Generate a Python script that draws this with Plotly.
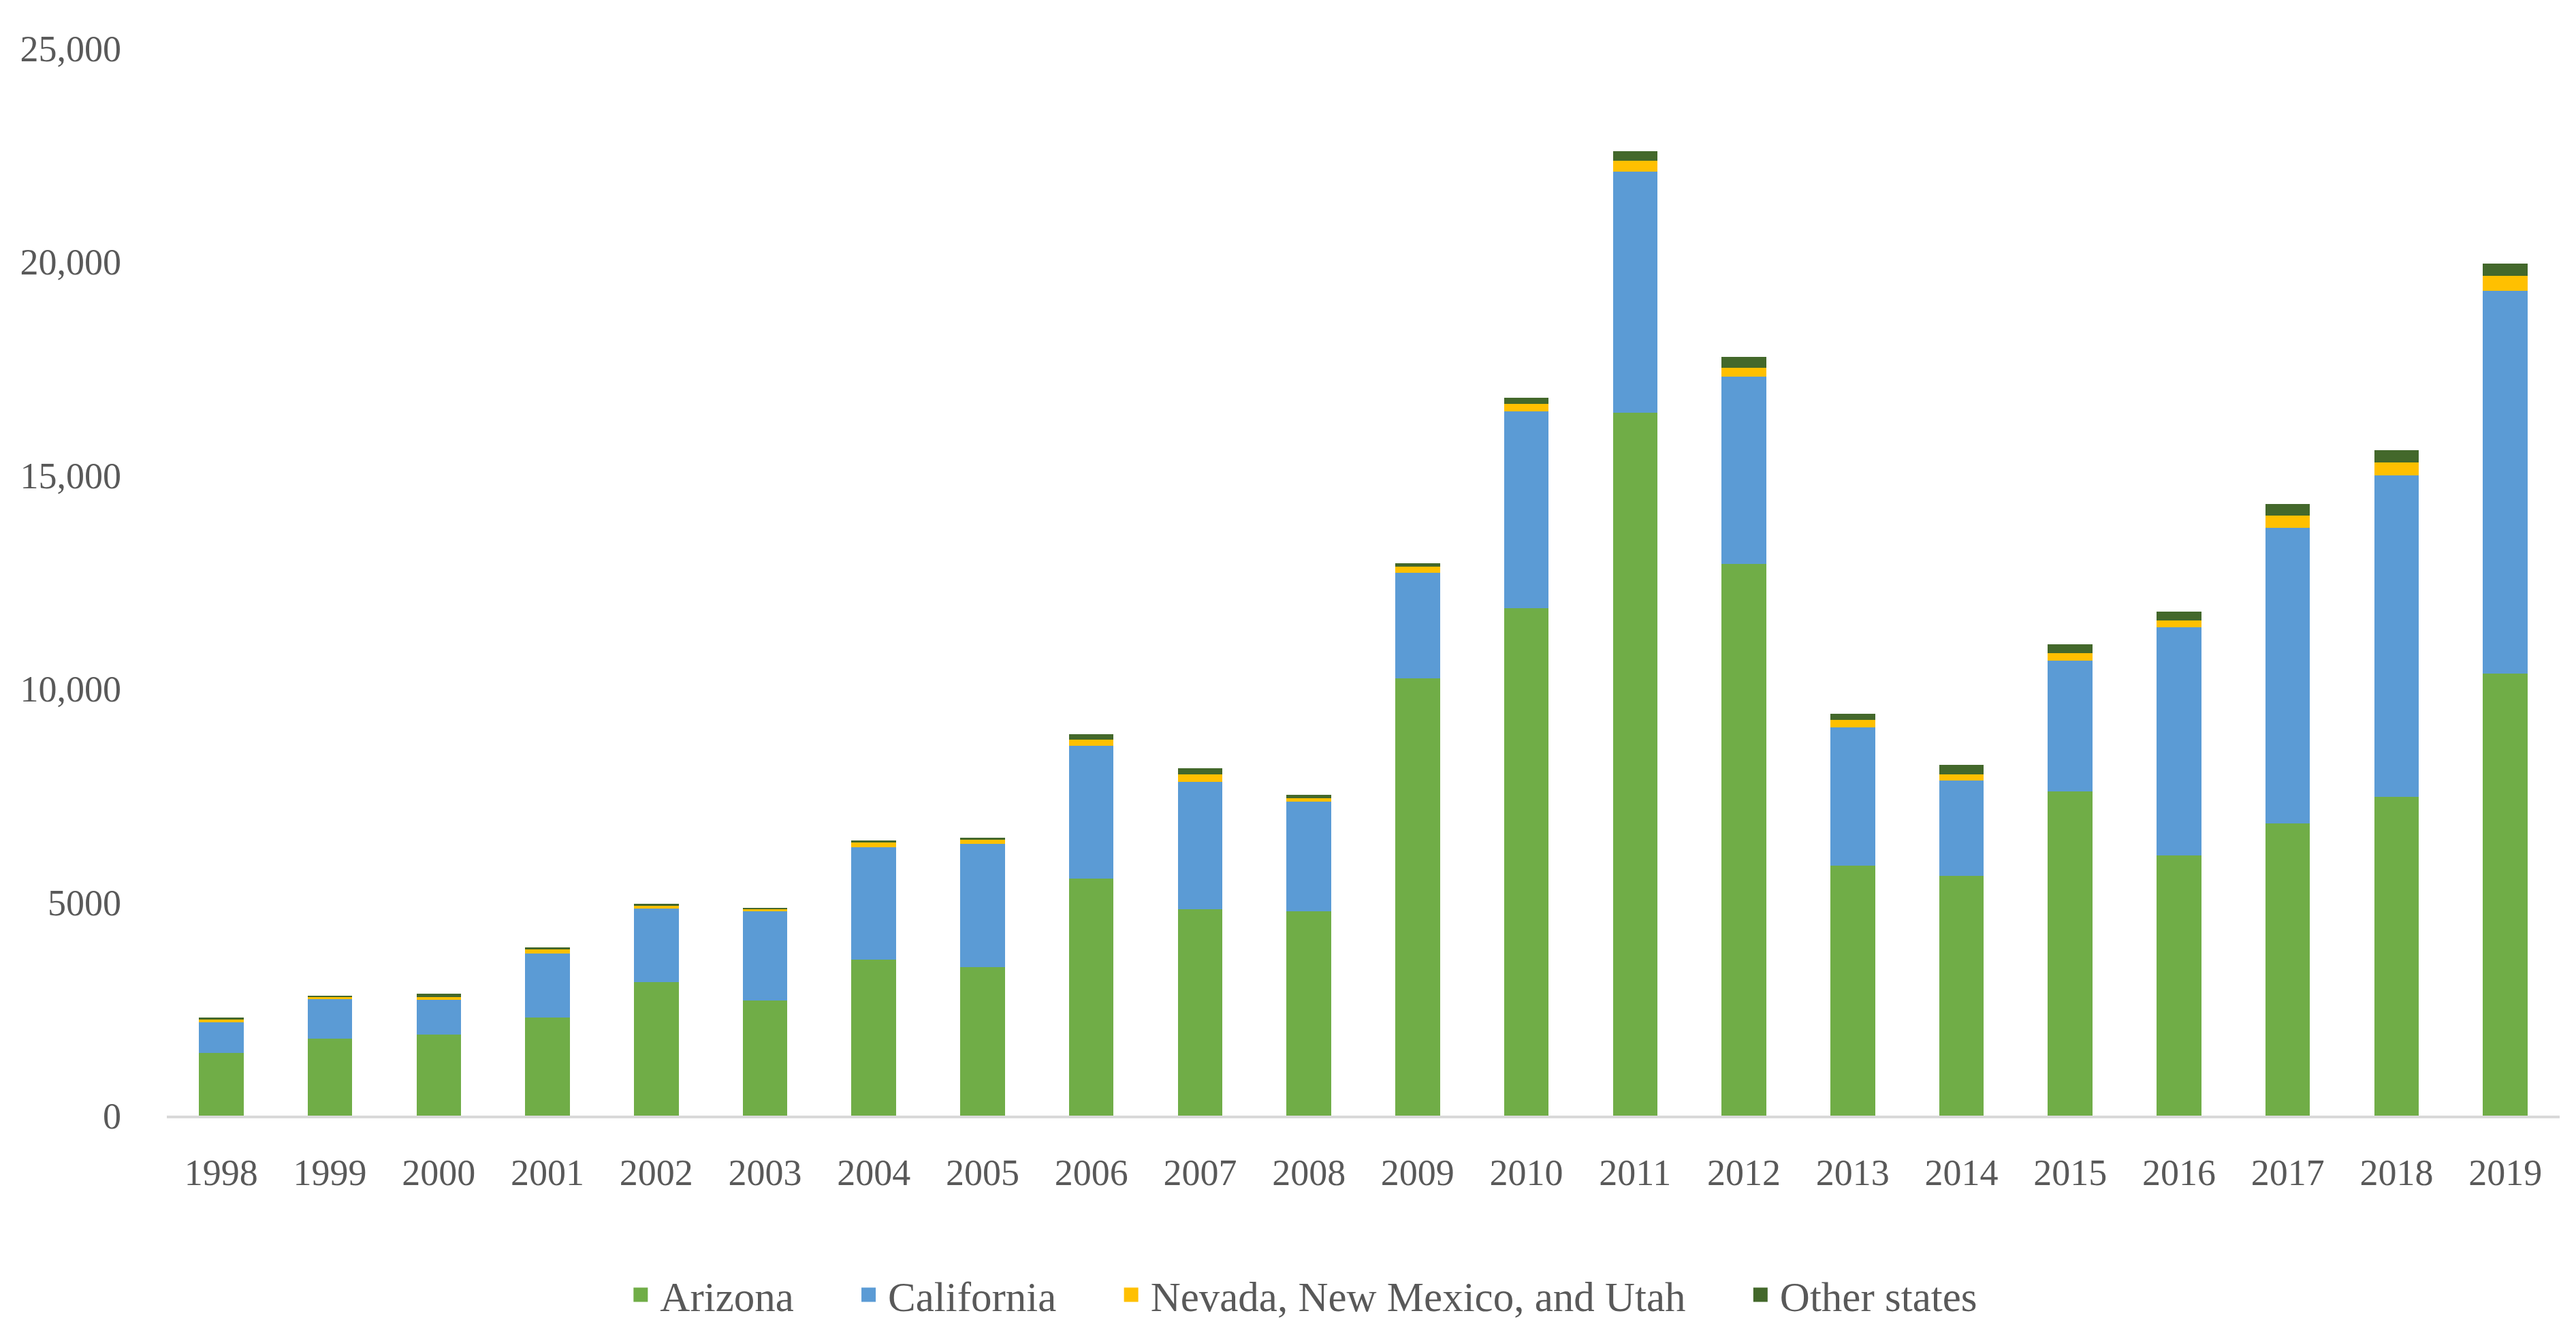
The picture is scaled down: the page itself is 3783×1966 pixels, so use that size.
import plotly.graph_objects as go

years = [str(y) for y in range(1998, 2020)]
arizona = [1460, 1800, 1900, 2300, 3130, 2700, 3650, 3480, 5550, 4830, 4780,
           10250, 11880, 16460, 12920, 5850, 5620, 7600, 6100, 6850, 7460, 10350]
california = [730, 930, 820, 1500, 1720, 2080, 2640, 2880, 3120, 2990, 2570,
              2460, 4620, 5660, 4390, 3250, 2230, 3050, 5340, 6920, 7540, 8970]
nevada_nm_ut = [60, 50, 60, 90, 70, 60, 105, 105, 130, 170, 90,
                150, 170, 250, 210, 165, 150, 190, 155, 290, 300, 355]
other_states = [40, 30, 80, 50, 40, 30, 55, 45, 130, 150, 80,
                85, 138, 225, 250, 150, 210, 195, 205, 265, 290, 290]

series = [
    ("Arizona", arizona, "#70AD47"),
    ("California", california, "#5B9BD5"),
    ("Nevada, New Mexico, and Utah", nevada_nm_ut, "#FFC000"),
    ("Other states", other_states, "#43682B"),
]

y_tickvals = [0, 5000, 10000, 15000, 20000, 25000]
y_ticktext = ["0", "5000", "10,000", "15,000", "20,000", "25,000"]

font_family = "Palatino Linotype, Book Antiqua, Palatino, Liberation Serif, serif"
text_color = "#595959"
pad = "\u00a0" * 5

fig = go.Figure()
for name, vals, color in series:
    fig.add_trace(go.Bar(x=years, y=vals, name=name, marker_color=color,
                         marker_line_width=0, showlegend=False,
                         legendgroup=name))
# legend entries with larger swatches
for i, (name, vals, color) in enumerate(series):
    label = name + (pad if i < len(series) - 1 else "")
    fig.add_trace(go.Scatter(x=[None], y=[None], mode="markers", name=label,
                             legendgroup=name,
                             marker=dict(symbol="square", size=16, color=color,
                                         line=dict(width=5, color=color))))

fig.update_layout(
    barmode="stack",
    bargap=0.59,
    width=3783,
    height=1966,
    paper_bgcolor="white",
    plot_bgcolor="white",
    margin=dict(l=237, r=32, t=63, b=336),
    font=dict(family=font_family, size=54, color=text_color),
    legend=dict(orientation="h", xref="container", yref="container",
                x=0.503, xanchor="center", y=0.037, yanchor="middle",
                font=dict(size=61, color=text_color),
                itemwidth=47, itemsizing="trace", traceorder="normal"),
    showlegend=True,
)
fig.update_xaxes(type="category", showline=True, linecolor="#D9D9D9",
                 linewidth=4, ticks="", showgrid=False,
                 ticklabelstandoff=33,
                 tickfont=dict(size=54, color=text_color))
fig.update_yaxes(range=[0, 25000], tickvals=y_tickvals, ticktext=y_ticktext,
                 showgrid=False, zeroline=False, showline=False, ticks="",
                 ticklabelstandoff=66,
                 tickfont=dict(size=54, color=text_color))

fig.write_html("out.html")
